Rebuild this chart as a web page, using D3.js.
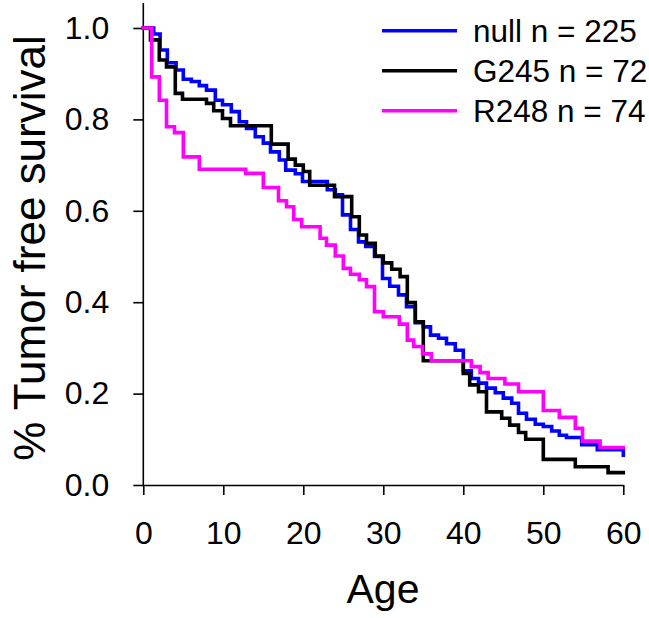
<!DOCTYPE html>
<html>
<head>
<meta charset="utf-8">
<script src="https://cdn.jsdelivr.net/npm/d3@7"></script>
<style>
  body { margin: 0; background: #fff; }
  svg text { font-family: "Liberation Sans", Arial, sans-serif; }
</style>
</head>
<body>
<div id="chart"></div>
<script>
// survival steps (age, fraction)
var nullAge  = [0, 1.3, 2.1, 3.0, 4.1, 5.0, 6.0, 7.0, 7.9, 9.0, 9.9, 11.0, 12.0, 12.9, 14.0, 15.0, 15.9, 17.0, 17.8, 19.0, 19.9, 23.0, 24.0, 24.9, 25.9, 26.9, 27.8, 28.9, 29.9, 30.8, 31.9, 32.9, 34.0, 35.0, 35.9, 36.9, 37.9, 39.0, 40.0, 41.0, 41.9, 42.9, 44.0, 45.0, 46.05, 46.9, 47.9, 49.0, 50.0, 51.05, 52.0, 52.9, 54.8, 56.75, 60];
var nullSurv = [1.0, 0.987, 0.952, 0.924, 0.908, 0.888, 0.883, 0.874, 0.864, 0.842, 0.832, 0.817, 0.795, 0.780, 0.762, 0.748, 0.729, 0.711, 0.689, 0.681, 0.664, 0.646, 0.635, 0.591, 0.559, 0.532, 0.522, 0.500, 0.452, 0.435, 0.416, 0.390, 0.355, 0.346, 0.328, 0.321, 0.309, 0.295, 0.250, 0.233, 0.223, 0.212, 0.202, 0.190, 0.179, 0.157, 0.144, 0.133, 0.128, 0.118, 0.109, 0.104, 0.088, 0.077, 0.065];

var g245Age  = [0, 0.9, 2.0, 2.9, 4.0, 4.9, 7.9, 8.8, 9.9, 10.9, 16.0, 18.1, 19.0, 20.0, 20.8, 23.9, 26.05, 27.0, 27.9, 29.0, 30.0, 31.05, 32.1, 33.0, 34.0, 35.0, 40.0, 40.8, 41.9, 42.9, 44.8, 45.8, 46.9, 47.8, 50.0, 54.0, 58.1];
var g245Surv = [1.0, 0.974, 0.930, 0.915, 0.857, 0.844, 0.835, 0.819, 0.802, 0.786, 0.746, 0.713, 0.700, 0.686, 0.656, 0.631, 0.587, 0.547, 0.529, 0.501, 0.486, 0.472, 0.456, 0.399, 0.357, 0.272, 0.244, 0.219, 0.204, 0.160, 0.146, 0.131, 0.115, 0.100, 0.056, 0.040, 0.027];

var r248Age  = [0, 1.05, 2.0, 2.9, 3.9, 5.0, 7.0, 12.8, 15.0, 16.9, 17.9, 18.8, 19.8, 22.1, 22.9, 24.0, 25.0, 25.9, 27.0, 27.9, 28.9, 30.0, 32.0, 33.0, 33.8, 34.9, 36.0, 41.0, 42.1, 43.1, 45.2, 46.9, 50.0, 52.0, 54.0, 54.9, 57.1];
var r248Surv = [1.0, 0.893, 0.842, 0.784, 0.771, 0.718, 0.691, 0.682, 0.651, 0.622, 0.609, 0.581, 0.565, 0.540, 0.525, 0.501, 0.474, 0.461, 0.449, 0.434, 0.379, 0.368, 0.352, 0.317, 0.303, 0.287, 0.272, 0.259, 0.246, 0.233, 0.221, 0.204, 0.163, 0.148, 0.124, 0.096, 0.082];

var seriesNames  = ["null n = 225", "G245 n = 72", "R248 n = 74"];
var seriesColors = ["#0000ff", "#000000", "#ff00ff"];
var xTicks = [0, 10, 20, 30, 40, 50, 60];
var yTicks = [0, 0.2, 0.4, 0.6, 0.8, 1.0];
var maxAge = 60;

var width = 649, height = 618;

var svg = d3.select("#chart").append("svg")
  .attr("width", width)
  .attr("height", height);

var x = d3.scaleLinear().domain([0, maxAge]).range([143.3, 623.3]);
var y = d3.scaleLinear().domain([0, 1]).range([485, 28]);

// axes
var xAxis = d3.axisBottom(x).tickValues(xTicks).tickSize(10).tickPadding(26).tickSizeOuter(0)
  .tickFormat(d3.format("d"));
var xg = svg.append("g").attr("transform", "translate(0,485)").call(xAxis);

var yAxis = d3.axisLeft(y).tickValues(yTicks).tickSize(10).tickPadding(24).tickSizeOuter(0)
  .tickFormat(d3.format(".1f"));
var yg = svg.append("g").attr("transform", "translate(143.3,0)").call(yAxis);
yg.select(".domain").remove();
yg.append("line").attr("x1", 0).attr("x2", 0).attr("y1", 3).attr("y2", 485)
  .attr("stroke", "#000").attr("stroke-width", 1.6);

svg.selectAll(".domain").attr("stroke-width", 1.6);
svg.selectAll(".tick line").attr("stroke-width", 1.6);
svg.selectAll(".tick text").attr("font-size", 32).attr("fill", "#000")
  .attr("font-family", "Liberation Sans, Arial, sans-serif");

// step curves
var line = d3.line()
  .x(function(d){ return x(d[0]); })
  .y(function(d){ return y(d[1]); })
  .curve(d3.curveStepAfter);

function steps(ages, surv){
  var pts = ages.map(function(a, i){ return [a, surv[i]]; });
  if (pts[pts.length-1][0] < maxAge) pts.push([maxAge, surv[surv.length-1]]);
  return pts;
}

var curves = [steps(nullAge, nullSurv), steps(g245Age, g245Surv), steps(r248Age, r248Surv)];

svg.selectAll(".km")
  .data(curves)
  .enter()
  .append("path")
  .attr("class", "km")
  .attr("d", line)
  .attr("fill", "none")
  .attr("stroke", function(d, i){ return seriesColors[i]; })
  .attr("stroke-width", 3.6)
  .attr("stroke-linejoin", "miter")
  .attr("stroke-linecap", "square");

// titles
svg.append("text")
  .attr("x", 383).attr("y", 603)
  .attr("text-anchor", "middle")
  .attr("font-size", 41)
  .text("Age");

svg.append("text")
  .attr("transform", "translate(45,248) rotate(-90)")
  .attr("text-anchor", "middle")
  .attr("font-size", 44)
  .text("% Tumor free survival");

// legend
var legend = svg.selectAll(".leg")
  .data(seriesNames)
  .enter()
  .append("g")
  .attr("class", "leg")
  .attr("transform", function(d, i){ return "translate(382," + (30.7 + i * 40) + ")"; });

legend.append("line")
  .attr("x1", 0).attr("x2", 75)
  .attr("stroke", function(d, i){ return seriesColors[i]; })
  .attr("stroke-width", 3.6);

legend.append("text")
  .attr("x", 91).attr("y", 11)
  .attr("font-size", 31.5)
  .text(function(d){ return d; });
</script>
</body>
</html>
